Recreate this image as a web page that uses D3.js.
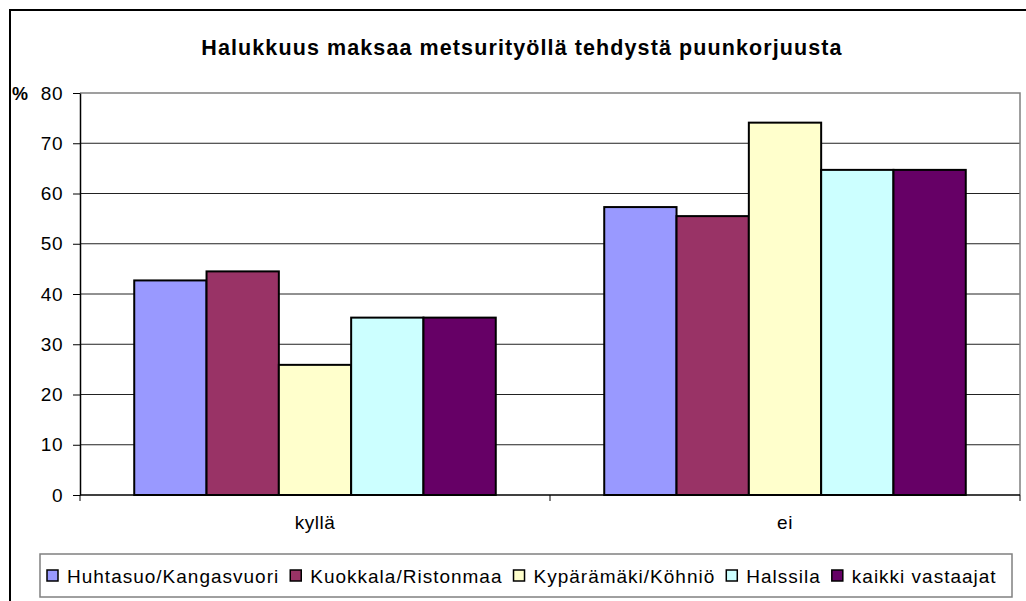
<!DOCTYPE html>
<html>
<head>
<meta charset="utf-8">
<script src="https://cdn.jsdelivr.net/npm/d3@7"></script>
<style>
  body { margin: 0; background: #fff; }
  text { font-family: "Liberation Sans", Arial, sans-serif; }
</style>
</head>
<body>
<div class="chart"></div>
<script>
// data
var categories = ["kyllä", "ei"];
var seriesNames = ["Huhtasuo/Kangasvuori", "Kuokkala/Ristonmaa", "Kypärämäki/Köhniö", "Halssila", "kaikki vastaajat"];
var seriesColors = ["#9999ff", "#993366", "#ffffcc", "#ccffff", "#660066"];
var huhtasuo = [42.7, 57.3];
var kuokkala = [44.5, 55.5];
var kyparamaki = [25.9, 74.1];
var halssila = [35.3, 64.7];
var kaikki = [35.3, 64.7];
var yTicks = [0, 10, 20, 30, 40, 50, 60, 70, 80];

var series = [huhtasuo, kuokkala, kyparamaki, halssila, kaikki];

var width = 1026, height = 601;
var plot = {left: 80, right: 1020, top: 93, bottom: 495};

var svg = d3.select(".chart")
  .append("svg")
    .attr("width", width)
    .attr("height", height);

// outer frame
svg.append("rect")
  .attr("x", 10).attr("y", 10)
  .attr("width", 1040).attr("height", 620)
  .style("fill", "none")
  .style("stroke", "#000")
  .style("stroke-width", 2);

// title
svg.append("text")
  .attr("x", 522).attr("y", 55)
  .attr("text-anchor", "middle")
  .style("font-size", "21.5px")
  .style("font-weight", "bold")
  .style("letter-spacing", "1.1px")
  .text("Halukkuus maksaa metsurityöllä tehdystä puunkorjuusta");

// scales
var x0 = d3.scaleBand()
  .domain(categories)
  .range([plot.left, plot.right]);

// excel style gap width of 150%
var barW = x0.bandwidth() / (seriesNames.length + 1.5);
var x1 = d3.scaleBand()
  .domain(d3.range(seriesNames.length))
  .range([0, barW * seriesNames.length]);

var y = d3.scaleLinear()
  .domain([0, 80])
  .range([plot.bottom, plot.top]);

// gridlines
svg.append("g")
  .selectAll("line")
  .data(yTicks.filter(function(d) { return d > 0 && d < 80; }))
  .join("line")
    .attr("x1", plot.left).attr("x2", plot.right)
    .attr("y1", function(d) { return y(d); })
    .attr("y2", function(d) { return y(d); })
    .style("stroke", "#222")
    .style("stroke-width", 1);

// plot area border (top + right), grey
svg.append("path")
  .attr("d", "M" + plot.left + "," + y(80) + "H" + plot.right + "V" + plot.bottom)
  .style("fill", "none")
  .style("stroke", "#808080")
  .style("stroke-width", 1.5);

// bars
var groups = svg.append("g")
  .selectAll("g")
  .data(categories)
  .join("g")
    .attr("transform", function(d) { return "translate(" + (x0(d) + (x0.bandwidth() - barW * seriesNames.length) / 2) + ",0)"; });

groups.selectAll("rect")
  .data(function(d, ci) { return series.map(function(s, si) { return {si: si, v: s[ci]}; }); })
  .join("rect")
    .attr("x", function(d) { return x1(d.si); })
    .attr("width", x1.bandwidth())
    .attr("y", function(d) { return y(d.v); })
    .attr("height", function(d) { return y(0) - y(d.v); })
    .style("fill", function(d) { return seriesColors[d.si]; })
    .style("stroke", "#000")
    .style("stroke-width", 2);

// y axis
var yAxis = svg.append("g")
  .attr("transform", "translate(" + plot.left + ",0)")
  .call(d3.axisLeft(y).tickValues(yTicks).tickSize(7).tickPadding(10).tickSizeOuter(0));
yAxis.select(".domain").style("stroke", "#000").style("stroke-width", 1.5);
yAxis.selectAll("line").style("stroke", "#000");
yAxis.selectAll("text")
  .style("font-size", "19px")
  .style("font-family", "'Liberation Sans', Arial, sans-serif")
  .style("letter-spacing", "0.5px")
  .attr("fill", "#000");

svg.append("text")
  .attr("x", 12).attr("y", y(80) + 7)
  .style("font-size", "18px")
  .style("font-weight", "bold")
  .text("%");

// x axis
svg.append("line")
  .attr("x1", plot.left).attr("x2", plot.right)
  .attr("y1", plot.bottom).attr("y2", plot.bottom)
  .style("stroke", "#000").style("stroke-width", 1.5);

svg.append("g")
  .selectAll("line")
  .data(categories.concat(["end"]))
  .join("line")
    .attr("x1", function(d) { return d === "end" ? plot.right : x0(d); })
    .attr("x2", function(d) { return d === "end" ? plot.right : x0(d); })
    .attr("y1", plot.bottom).attr("y2", plot.bottom + 6)
    .style("stroke", "#000");

svg.append("g")
  .selectAll("text")
  .data(categories)
  .join("text")
    .attr("x", function(d) { return x0(d) + x0.bandwidth() / 2; })
    .attr("y", 529)
    .attr("text-anchor", "middle")
    .style("font-size", "19px")
    .style("letter-spacing", "0.5px")
    .text(function(d) { return d; });

// legend
var legend = svg.append("g");
legend.append("rect")
  .attr("x", 40).attr("y", 554)
  .attr("width", 972).attr("height", 43)
  .style("fill", "#fff")
  .style("stroke", "#808080")
  .style("stroke-width", 1.5);

var lx = 47;
seriesNames.forEach(function(name, i) {
  legend.append("rect")
    .attr("x", lx).attr("y", 570)
    .attr("width", 11).attr("height", 11)
    .style("fill", seriesColors[i])
    .style("stroke", "#000")
    .style("stroke-width", 1.5);
  var t = legend.append("text")
    .attr("x", lx + 20).attr("y", 583)
    .style("font-size", "19px")
    .style("letter-spacing", "1px")
    .text(name);
  lx += 20 + t.node().getComputedTextLength() + 11;
});
</script>
</body>
</html>
